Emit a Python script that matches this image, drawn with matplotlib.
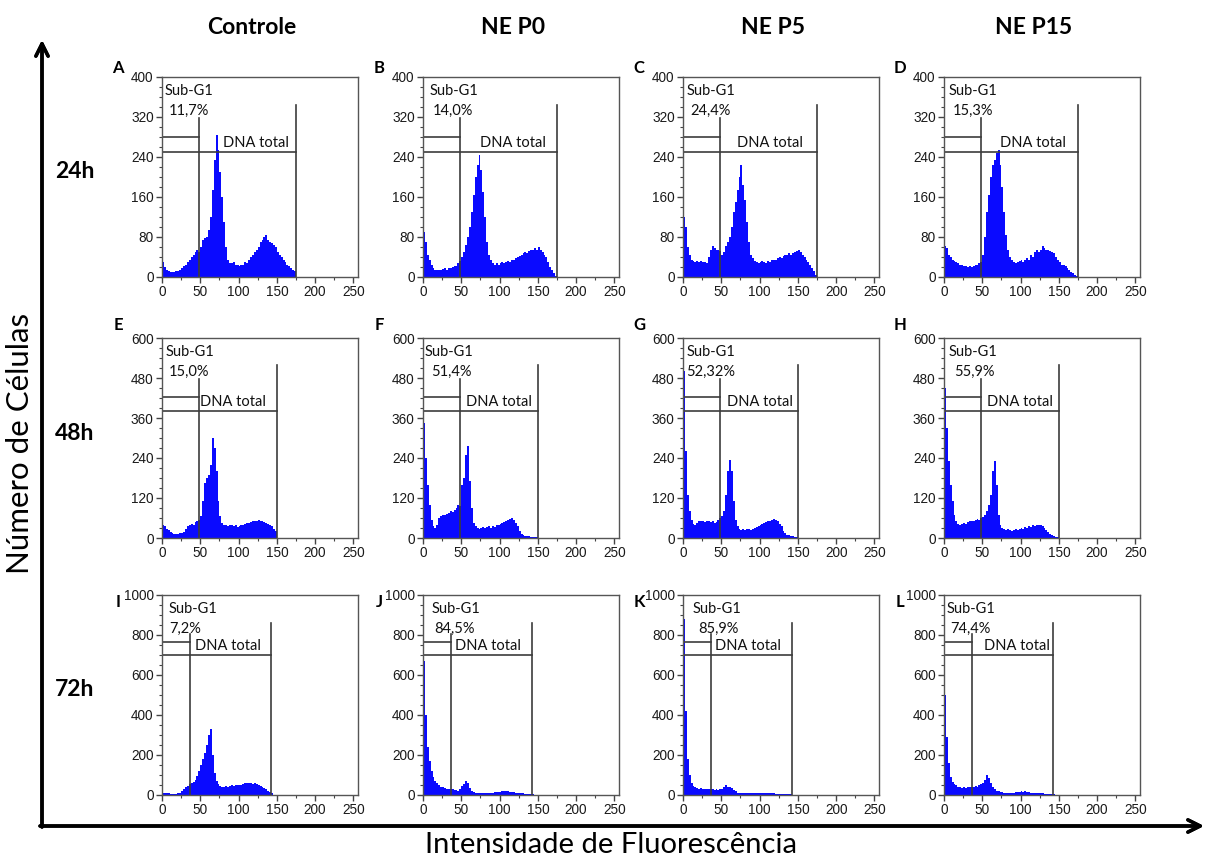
import numpy as np
import matplotlib.pyplot as plt
from matplotlib.ticker import MultipleLocator

# =========================
# DATA
# =========================
W, H = 1205, 857
BW = 2.5  # histogram bin width (fluorescence channels)

col_titles = ["Controle", "NE P0", "NE P5", "NE P15"]
row_titles = ["24h", "48h", "72h"]
letters = list("ABCDEFGHIJKL")
sub_g1_pct = ["11,7%", "14,0%", "24,4%", "15,3%",
              "15,0%", "51,4%", "52,32%", "55,9%",
              "7,2%", "84,5%", "85,9%", "74,4%"]

y_max = [400, 600, 1000]
y_step = [80, 120, 200]

# gates per row: sub-G1 limit, sub-G1 bar level, sub-G1 line top,
# DNA total limit, DNA total bar level, DNA total line top
sub_x = [48, 48, 37]
sub_level = [280, 422, 765]
sub_top = [318, 478, 805]
dna_x = [175, 150, 143]
dna_level = [250, 380, 698]
dna_top = [345, 520, 862]

# 24h (bins 0..175)
counts_A = [30, 20, 15, 12, 10, 10, 10, 12, 12, 15, 18, 22, 25, 30, 35, 40, 45, 50, 55, 50,
            60, 75, 78, 80, 95, 120, 175, 235, 285, 255, 210, 160, 110, 60, 35, 28,
            28, 30, 25, 25, 22, 25, 25, 30, 28, 35, 40, 45, 50, 55, 60, 70, 75, 80,
            85, 75, 70, 68, 65, 60, 50, 45, 40, 35, 30, 25, 22, 18, 15, 12]
counts_B = [90, 70, 45, 35, 25, 18, 15, 15, 15, 15, 17, 18, 15, 18, 18, 20, 22, 22, 28, 32,
            40, 50, 65, 80, 100, 130, 165, 200, 225, 245, 215, 170, 120, 70, 45, 35,
            28, 25, 28, 25, 28, 30, 28, 30, 32, 30, 35, 35, 38, 40, 42, 45, 48, 50,
            48, 52, 55, 55, 58, 55, 60, 55, 50, 45, 40, 30, 20, 15, 8, 3]
counts_C = [120, 100, 60, 45, 35, 32, 30, 32, 30, 32, 30, 30, 28, 40, 55, 62, 58, 55, 55, 52,
            45, 50, 62, 70, 80, 100, 130, 150, 175, 200, 225, 185, 155, 110, 70, 45,
            38, 32, 30, 28, 30, 32, 30, 28, 32, 30, 35, 35, 35, 38, 40, 38, 42, 45,
            45, 48, 45, 48, 50, 52, 55, 50, 45, 40, 35, 30, 25, 18, 12, 5]
counts_D = [62, 58, 45, 40, 35, 32, 30, 28, 25, 25, 22, 22, 20, 22, 20, 22, 25, 25, 28, 30,
            45, 80, 130, 165, 200, 225, 235, 248, 255, 225, 180, 130, 85, 55, 40, 35,
            30, 28, 30, 32, 35, 30, 35, 38, 35, 45, 40, 50, 55, 50, 55, 62, 58, 55,
            55, 52, 50, 48, 40, 35, 30, 25, 25, 22, 18, 15, 10, 8, 5, 3]

# 48h (bins 0..150)
counts_E = [40, 35, 28, 25, 18, 15, 12, 12, 12, 15, 15, 18, 28, 35, 38, 42, 40, 48, 52, 55,
            65, 110, 165, 180, 190, 220, 300, 270, 200, 110, 65, 45,
            38, 40, 35, 38, 40, 35, 38, 32, 35, 38, 40, 42, 45, 45, 48, 50,
            52, 50, 55, 52, 50, 48, 45, 42, 40, 35, 28, 20]
counts_F = [345, 240, 160, 100, 55, 35, 30, 40, 60, 65, 70, 68, 72, 75, 80, 78, 85, 90, 100, 95,
            160, 180, 250, 275, 170, 90, 45, 35, 30, 28, 30, 32,
            30, 32, 35, 30, 35, 32, 38, 40, 42, 45, 48, 50, 55, 58, 60, 55,
            45, 35, 20, 12, 8, 6, 5, 5, 4, 4, 3, 2]
counts_G = [500, 260, 130, 80, 55, 42, 40, 45, 50, 52, 50, 48, 52, 50, 48, 50, 45, 48, 55, 60,
            65, 80, 130, 200, 235, 200, 110, 55, 35, 28, 25, 28,
            25, 28, 28, 25, 28, 30, 32, 35, 38, 42, 45, 48, 50, 52, 55, 58,
            55, 50, 42, 35, 22, 15, 10, 8, 6, 5, 4, 3]
counts_H = [450, 330, 230, 160, 110, 70, 50, 42, 40, 42, 45, 42, 48, 50, 52, 50, 55, 58, 55, 60,
            62, 70, 80, 100, 130, 200, 230, 160, 70, 40, 30, 28,
            25, 28, 25, 22, 25, 28, 25, 28, 30, 28, 32, 30, 35, 32, 38, 35,
            40, 38, 38, 35, 30, 25, 18, 12, 8, 5, 4, 3]

# 72h (bins 0..145)
counts_I = [10, 8, 8, 8, 6, 6, 6, 6, 8, 10, 20, 30, 40, 45, 55, 60, 65, 75, 95, 120,
            150, 180, 210, 250, 300, 330, 200, 110, 70, 55, 45, 42,
            40, 45, 42, 45, 48, 45, 50, 48, 52, 50, 55, 60, 62, 58,
            60, 55, 58, 55, 50, 45, 40, 35, 28, 22, 15, 8]
counts_J = [670, 400, 240, 170, 120, 90, 70, 58, 48, 42, 38, 35, 32, 30, 28, 28, 25, 25, 22, 30,
            45, 55, 70, 60, 35, 22, 15, 12, 10, 10, 10, 10,
            10, 10, 12, 10, 12, 14, 15, 15, 16, 18, 18, 18, 18, 16,
            15, 15, 12, 12, 10, 8, 8, 6, 5, 5, 4, 3]
counts_K = [880, 420, 180, 100, 60, 45, 40, 35, 32, 35, 32, 30, 28, 30, 28, 28, 25, 28, 25, 28,
            30, 38, 48, 40, 42, 35, 25, 18, 12, 10, 8, 8,
            8, 8, 8, 8, 8, 10, 10, 12, 12, 10, 10, 10, 10, 8,
            8, 8, 7, 6, 6, 5, 5, 4, 4, 3, 3, 2]
counts_L = [500, 290, 160, 90, 65, 55, 48, 42, 38, 35, 38, 35, 40, 38, 42, 40, 45, 42, 48, 55,
            62, 75, 100, 85, 60, 40, 28, 22, 18, 15, 14, 12,
            12, 12, 10, 12, 12, 14, 15, 15, 18, 16, 18, 15, 14, 12,
            12, 10, 10, 10, 8, 8, 7, 6, 5, 5, 4, 3]

all_counts = [counts_A, counts_B, counts_C, counts_D,
              counts_E, counts_F, counts_G, counts_H,
              counts_I, counts_J, counts_K, counts_L]

# text positions (data x) inside each panel
sub_label_x = [3, 8.6, 4.4, 6.6, 4.3, 2, 4.3, 6.6, 8.7, 11, 13, 3]
pct_label_x = [9, 13, 10, 12, 9, 11, 3.5, 13, 9, 15, 20, 8]
dna_label_x = [80, 75, 70, 73, 50, 56, 57, 56, 43, 42, 42, 52]

# =========================
# LAYOUT
# =========================
col_left = [162, 423, 683, 944]
row_top = [77, 338, 595]
ax_w, ax_h = 196, 200
letter_y = [68, 325, 602]

BLUE = "#0a0aff"
GATE = "#3c3c3c"
TXT = "Lato"

fig = plt.figure(figsize=(W / 100, H / 100), dpi=100)


def fx(x):
    return x / W


def fy(y):
    return 1 - y / H


for r in range(3):
    for c in range(4):
        i = r * 4 + c
        L, T = col_left[c], row_top[r]
        ax = fig.add_axes([fx(L), fy(T + ax_h), ax_w / W, ax_h / H])
        counts = all_counts[i]
        edges = np.arange(len(counts)) * BW
        ax.bar(edges, counts, width=BW, align="edge", color=BLUE,
               linewidth=0, antialiased=False)

        ym = y_max[r]
        ax.set_xlim(0, 256)
        ax.set_ylim(0, ym)
        ax.xaxis.set_major_locator(MultipleLocator(50))
        ax.xaxis.set_minor_locator(MultipleLocator(25))
        ax.yaxis.set_major_locator(MultipleLocator(y_step[r]))
        ax.yaxis.set_minor_locator(MultipleLocator(y_step[r] / 4))
        ax.tick_params(which="major", length=4, width=1, color="#444",
                       labelsize=9.8, labelcolor="#1a1a1a", pad=2)
        ax.tick_params(which="minor", length=2, width=0.8, color="#444")
        for t in ax.get_xticklabels() + ax.get_yticklabels():
            t.set_fontfamily("Liberation Sans")
        for s in ax.spines.values():
            s.set_color("#555")
            s.set_linewidth(1)

        # gates
        ax.plot([sub_x[r], sub_x[r]], [0, sub_top[r]], color=GATE, lw=1.2)
        ax.plot([0, sub_x[r]], [sub_level[r], sub_level[r]], color=GATE, lw=1.2)
        ax.plot([dna_x[r], dna_x[r]], [0, dna_top[r]], color=GATE, lw=1.2)
        ax.plot([0, dna_x[r]], [dna_level[r], dna_level[r]], color=GATE, lw=1.2)

        ax.text(sub_label_x[i], 0.93 * ym, "Sub-G1", fontsize=10.5,
                family=TXT, color="#111", va="center", ha="left")
        ax.text(pct_label_x[i], 0.83 * ym, sub_g1_pct[i], fontsize=10.5,
                family=TXT, color="#111", va="center", ha="left")
        ax.text(dna_label_x[i], dna_level[r] + 0.01 * ym, "DNA total",
                fontsize=10.5, family=TXT, color="#111", va="bottom", ha="left")

        fig.text(fx(L - 44), fy(letter_y[r]), letters[i], fontsize=12,
                 fontweight="bold", family=TXT, ha="center", va="center")

# column and row titles
for c, name in enumerate(col_titles):
    fig.text(fx(col_left[c] + ax_w / 2 - 8), fy(28), name, fontsize=16.5,
             fontweight="bold", family=TXT, ha="center", va="center")
for r, name in enumerate(row_titles):
    fig.text(fx(75), fy([172, 434, 690][r]), name, fontsize=16.5,
             fontweight="bold", family=TXT, ha="center", va="center")

# axis arrows
fig.add_artist(plt.annotate("", xy=(fx(42), fy(40)), xytext=(fx(42), fy(827)),
                            xycoords="figure fraction", textcoords="figure fraction",
                            arrowprops=dict(arrowstyle="->", lw=2.5, color="black",
                                            mutation_scale=22, shrinkA=0, shrinkB=0)))
fig.add_artist(plt.annotate("", xy=(fx(1204), fy(826)), xytext=(fx(40), fy(826)),
                            xycoords="figure fraction", textcoords="figure fraction",
                            arrowprops=dict(arrowstyle="->", lw=2.5, color="black",
                                            mutation_scale=22, shrinkA=0, shrinkB=0)))

fig.text(fx(20), fy(443), "Número de Células", rotation=90, fontsize=22.5,
         family=TXT, ha="center", va="center")
fig.text(fx(611), fy(845), "Intensidade de Fluorescência", fontsize=21,
         family=TXT, ha="center", va="center")

fig.savefig("out.png", dpi=100)
